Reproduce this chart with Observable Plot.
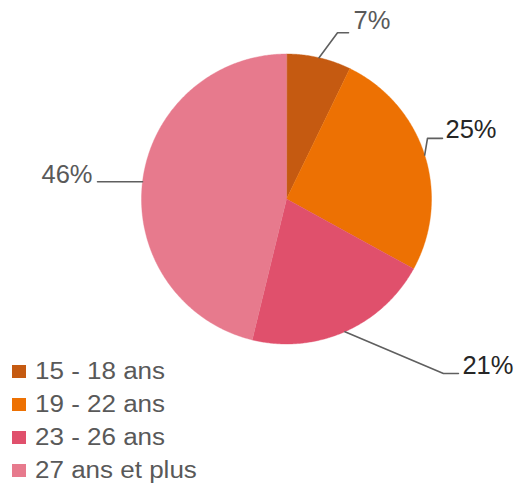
<!DOCTYPE html>
<html>
<head>
<meta charset="utf-8">
<script src="https://cdn.jsdelivr.net/npm/d3@7"></script>
<script src="https://cdn.jsdelivr.net/npm/@observablehq/plot@0.6"></script>
<style>
  html, body { margin: 0; padding: 0; background: #fff; }
  #wrap { position: relative; width: 521px; height: 488px; overflow: hidden; font-family: "Liberation Sans", Arial, sans-serif; }
  #chart svg { display: block; }
  .row { position: absolute; left: 12px; height: 33px; display: flex; align-items: center; white-space: nowrap; }
  .sw { width: 14px; height: 13px; flex: none; }
  .lb { margin-left: 9px; font-size: 23px; color: #595959; transform: scaleX(1.13); transform-origin: left center; display: inline-block; }
</style>
</head>
<body>
<div id="wrap">
  <div id="chart"></div>
  <div id="legend"></div>
</div>
<script>
// ---- data ----
const categories = ["15 - 18 ans", "19 - 22 ans", "23 - 26 ans", "27 ans et plus"];
const shares = [7.2, 25.8, 20.8, 46.2];          // slice sizes
const shareLabels = ["7%", "25%", "21%", "46%"];  // labels as printed
const colors = ["#c55a11", "#ed7103", "#e0506c", "#e77a8d"];

// ---- layout (pixels) ----
const cx = 286, cy = 198.5, R = 145;
// leader line: elbow offset from slice edge (px, +y = down), horizontal run (px), text offsets
const leader = [
  {ex: 18.5, ey: -25, run: 11, tdx: 5, tdy: -4, side: "start", col: "#595959"},
  {ex: 2.8, ey: -16.7, run: 15, tdx: 3, tdy: 0, side: "start", col: "#262626"},
  {ex: 98.5, ey: 41.8, run: 15, tdx: 4, tdy: 0, side: "start", col: "#262626"},
  {ex: 0, ey: 0, run: -45, tdx: -5, tdy: 1, side: "end", col: "#595959"}
];

const total = d3.sum(shares);
let acc = 0;
const slices = shares.map((v, i) => {
  const a0 = acc / total * 2 * Math.PI;
  acc += v;
  const a1 = acc / total * 2 * Math.PI;
  return {cat: categories[i], a0, a1, mid: (a0 + a1) / 2, label: shareLabels[i]};
});

// polygon rows for each slice (unit circle coordinates)
const rows = [];
for (const s of slices) {
  rows.push({cat: s.cat, x: 0, y: 0});
  const n = Math.max(2, Math.ceil((s.a1 - s.a0) / (Math.PI / 360)));
  for (let k = 0; k <= n; k++) {
    const a = s.a0 + (s.a1 - s.a0) * k / n;
    rows.push({cat: s.cat, x: Math.sin(a), y: Math.cos(a)});
  }
}

// leader lines
const leaderRows = [];
const textRows = [];
slices.forEach((s, i) => {
  const L = leader[i];
  const p0 = {x: Math.sin(s.mid), y: Math.cos(s.mid)};
  const p1 = {x: p0.x + L.ex / R, y: p0.y - L.ey / R};
  const p2 = {x: p1.x + L.run / R, y: p1.y};
  leaderRows.push({k: i, ...p0}, {k: i, ...p1}, {k: i, ...p2});
  textRows.push({i, label: s.label, x: p2.x + L.tdx / R, y: p2.y - L.tdy / R, side: L.side, col: L.col});
});

const marks = [
  Plot.line(rows, {x: "x", y: "y", z: "cat", fill: "cat", stroke: "cat", strokeWidth: 0.4, curve: "linear-closed"}),
  Plot.line(leaderRows, {x: "x", y: "y", z: "k", stroke: "#5f5f5f", strokeWidth: 1.6})
];
for (const t of textRows) {
  marks.push(Plot.text([t], {x: "x", y: "y", text: "label", textAnchor: t.side, lineAnchor: "bottom",
    fill: t.col, fontSize: 25.5, fontFamily: "Liberation Sans, Arial, sans-serif"}));
}

const plot = Plot.plot({
  width: 521,
  height: 355,
  margin: 0,
  x: {domain: [-1, 1], range: [cx - R, cx + R], axis: null},
  y: {domain: [-1, 1], range: [cy + R, cy - R], axis: null},
  color: {domain: categories, range: colors},
  style: {background: "#fff", fontFamily: "Liberation Sans, Arial, sans-serif", overflow: "visible"},
  marks
});
document.getElementById("chart").appendChild(plot);

// legend below the SVG
const legend = document.getElementById("legend");
categories.forEach((c, i) => {
  const row = document.createElement("div");
  row.className = "row";
  row.style.top = (355 + i * 33) + "px";
  const sw = document.createElement("span");
  sw.className = "sw";
  sw.style.background = colors[i];
  const lb = document.createElement("span");
  lb.className = "lb";
  lb.textContent = c;
  row.appendChild(sw);
  row.appendChild(lb);
  legend.appendChild(row);
});
</script>
</body>
</html>
